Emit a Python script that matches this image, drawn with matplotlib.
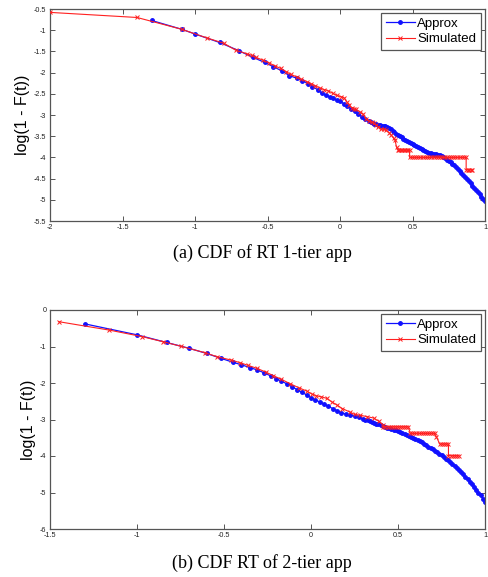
import matplotlib.pyplot as plt

# ── data ─────────────────────────────────────────────────────────────────────
# (a) 1-tier app
a_approx_x = [-1.30, -1.09, -1.00, -0.83, -0.70, -0.60, -0.52, -0.46, -0.40, -0.35,
              -0.30, -0.26, -0.22, -0.19, -0.155, -0.125, -0.097, -0.07, -0.046, -0.022,
              0.000, 0.025, 0.050, 0.075, 0.100, 0.125, 0.150, 0.175,
              0.2000, 0.2125, 0.2250, 0.2375, 0.2500, 0.2625, 0.2750, 0.2875,
              0.3000, 0.3125, 0.3250, 0.3375, 0.3500, 0.3625, 0.3750, 0.3875,
              0.4000, 0.4125, 0.4250, 0.4375, 0.4500, 0.4625, 0.4750, 0.4875,
              0.5000, 0.5125, 0.5250, 0.5375, 0.5500, 0.5625, 0.5750, 0.5875,
              0.6000, 0.6125, 0.6250, 0.6375, 0.6500, 0.6625, 0.6750, 0.6875,
              0.7000, 0.7125, 0.7250, 0.7375, 0.7500, 0.7625, 0.7750, 0.7875,
              0.8000, 0.8125, 0.8250, 0.8375, 0.8500, 0.8625, 0.8750, 0.8875,
              0.9000, 0.9125, 0.9250, 0.9375, 0.9500, 0.9625, 0.9750, 0.9875, 1.0000]
a_approx_y = [-0.77, -0.98, -1.09, -1.29, -1.48, -1.64, -1.76, -1.86, -1.96, -2.07,
              -2.13, -2.19, -2.26, -2.33, -2.40, -2.49, -2.53, -2.57, -2.61, -2.65,
              -2.68, -2.73, -2.79, -2.85, -2.91, -2.98, -3.04, -3.10,
              -3.15, -3.17, -3.19, -3.205, -3.22, -3.23, -3.24, -3.25,
              -3.26, -3.27, -3.28, -3.30, -3.33, -3.37, -3.41, -3.44,
              -3.47, -3.50, -3.53, -3.555, -3.58, -3.605, -3.63, -3.655,
              -3.68, -3.71, -3.74, -3.765, -3.79, -3.81, -3.83, -3.85,
              -3.87, -3.885, -3.90, -3.91, -3.92, -3.93, -3.94, -3.955,
              -3.97, -3.995, -4.02, -4.05, -4.08, -4.115, -4.15, -4.19,
              -4.23, -4.275, -4.32, -4.365, -4.41, -4.46, -4.51, -4.56,
              -4.61, -4.665, -4.72, -4.77, -4.82, -4.875, -4.93, -4.98, -5.03]

a_sim_x = [-2.00, -1.40, -1.09, -0.92, -0.80, -0.72, -0.64, -0.61, -0.58, -0.53,
           -0.49, -0.45, -0.41, -0.37, -0.34, -0.30, -0.27, -0.23, -0.20, -0.17,
           -0.14, -0.11, -0.08, -0.05, -0.02, 0.01, 0.03, 0.046, 0.065, 0.08,
           0.095, 0.11, 0.135, 0.16, 0.18, 0.20, 0.22, 0.235, 0.25, 0.265,
           0.28, 0.30, 0.32, 0.34, 0.355, 0.37, 0.38, 0.39,
           0.40, 0.41, 0.42, 0.43, 0.44, 0.45, 0.46, 0.47, 0.48,
           0.48, 0.495, 0.51, 0.525, 0.54, 0.555, 0.57, 0.585, 0.60, 0.615,
           0.63, 0.645, 0.66, 0.675, 0.69, 0.705, 0.72, 0.735, 0.75, 0.765,
           0.78, 0.795, 0.81, 0.825, 0.84, 0.855, 0.87,
           0.87, 0.88, 0.89, 0.90, 0.91]
a_sim_y = [-0.58, -0.70, -0.98, -1.18, -1.31, -1.47, -1.56, -1.59, -1.64, -1.71,
           -1.77, -1.84, -1.90, -1.98, -2.04, -2.10, -2.15, -2.21, -2.26, -2.31,
           -2.36, -2.40, -2.43, -2.49, -2.54, -2.57, -2.60, -2.69, -2.76, -2.83,
           -2.85, -2.87, -2.92, -2.98, -3.09, -3.13, -3.17, -3.20, -3.24, -3.28,
           -3.33, -3.34, -3.36, -3.42, -3.48, -3.55, -3.60, -3.76,
           -3.83, -3.83, -3.83, -3.83, -3.83, -3.83, -3.83, -3.83, -3.83,
           -4.00, -4.00, -4.00, -4.00, -4.00, -4.00, -4.00, -4.00, -4.00, -4.00,
           -4.00, -4.00, -4.00, -4.00, -4.00, -4.00, -4.00, -4.00, -4.00, -4.00,
           -4.00, -4.00, -4.00, -4.00, -4.00, -4.00, -4.00,
           -4.29, -4.29, -4.29, -4.29, -4.29]

# (b) 2-tier app
b_approx_x = [-1.30, -1.00, -0.83, -0.70, -0.60, -0.52, -0.45, -0.40, -0.35, -0.31,
              -0.27, -0.23, -0.20, -0.17, -0.14, -0.11, -0.08, -0.05, -0.025,
              0.000, 0.025, 0.050, 0.075, 0.100, 0.125, 0.150, 0.175, 0.200, 0.225,
              0.250, 0.275,
              0.3000, 0.3125, 0.3250, 0.3375, 0.3500, 0.3625, 0.3750, 0.3875,
              0.4000, 0.4125, 0.4250, 0.4375, 0.4500, 0.4625, 0.4750, 0.4875,
              0.5000, 0.5125, 0.5250, 0.5375, 0.5500, 0.5625, 0.5750, 0.5875,
              0.6000, 0.6125, 0.6250, 0.6375, 0.6500, 0.6625, 0.6750, 0.6875,
              0.7000, 0.7125, 0.7250, 0.7375, 0.7500, 0.7625, 0.7750, 0.7875,
              0.8000, 0.8125, 0.8250, 0.8375, 0.8500, 0.8625, 0.8750, 0.8875,
              0.9000, 0.9125, 0.9250, 0.9375, 0.9500, 0.9625, 0.9750, 0.9875, 1.0000]
b_approx_y = [-0.38, -0.68, -0.89, -1.05, -1.19, -1.32, -1.43, -1.50, -1.58, -1.64,
              -1.72, -1.81, -1.88, -1.95, -2.02, -2.10, -2.18, -2.26, -2.33,
              -2.40, -2.46, -2.52, -2.58, -2.64, -2.70, -2.76, -2.81, -2.85, -2.88,
              -2.91, -2.94,
              -2.98, -3.00, -3.02, -3.045, -3.07, -3.09, -3.11, -3.135,
              -3.16, -3.18, -3.20, -3.22, -3.24, -3.26, -3.28, -3.30,
              -3.32, -3.345, -3.37, -3.395, -3.42, -3.45, -3.48, -3.51,
              -3.54, -3.57, -3.60, -3.63, -3.66, -3.70, -3.74, -3.775,
              -3.81, -3.85, -3.89, -3.935, -3.98, -4.025, -4.07, -4.12,
              -4.17, -4.225, -4.28, -4.335, -4.39, -4.445, -4.50, -4.57,
              -4.64, -4.705, -4.77, -4.845, -4.92, -5.00, -5.08, -5.165, -5.25]

b_sim_x = [-1.45, -1.16, -0.97, -0.85, -0.75, -0.61, -0.54, -0.46, -0.41, -0.36,
           -0.31, -0.26, -0.216, -0.17, -0.12, -0.07, -0.025, 0.004, 0.03, 0.06,
           0.09, 0.12, 0.148, 0.18, 0.225, 0.25, 0.28, 0.32, 0.36, 0.39, 0.416,
           0.416, 0.428, 0.44, 0.452, 0.464, 0.476, 0.488, 0.50, 0.512, 0.524,
           0.536, 0.548, 0.56,
           0.57, 0.582, 0.594, 0.606, 0.618, 0.63, 0.642, 0.654, 0.666, 0.678,
           0.69, 0.70, 0.71, 0.72,
           0.74, 0.752, 0.764, 0.776, 0.79,
           0.79, 0.802, 0.814, 0.826, 0.838, 0.85]
b_sim_y = [-0.32, -0.55, -0.73, -0.87, -0.99, -1.17, -1.28, -1.37, -1.44, -1.52,
           -1.60, -1.70, -1.80, -1.90, -2.02, -2.13, -2.22, -2.30, -2.35, -2.38,
           -2.42, -2.52, -2.60, -2.70, -2.80, -2.86, -2.88, -2.92, -2.96, -3.05, -3.15,
           -3.20, -3.20, -3.20, -3.20, -3.20, -3.20, -3.20, -3.20, -3.20, -3.20,
           -3.20, -3.20, -3.20,
           -3.38, -3.38, -3.38, -3.38, -3.38, -3.38, -3.38, -3.38, -3.38, -3.38,
           -3.38, -3.38, -3.38, -3.47,
           -3.67, -3.67, -3.67, -3.67, -3.67,
           -3.99, -3.99, -3.99, -3.99, -3.99, -3.99]

a_xticks = [-2, -1.5, -1, -0.5, 0, 0.5, 1]
a_yticks = [-5.5, -5, -4.5, -4, -3.5, -3, -2.5, -2, -1.5, -1, -0.5]
b_xticks = [-1.5, -1, -0.5, 0, 0.5, 1]
b_yticks = [-6, -5, -4, -3, -2, -1, 0]

SANS = ['Liberation Sans', 'DejaVu Sans']
SERIF = ['Liberation Serif', 'DejaVu Serif']
SPINE = '#555555'

fig = plt.figure(figsize=(4.88, 5.77), dpi=100)
ax_a = fig.add_axes([50 / 488, 1 - 221 / 577, 435 / 488, 212 / 577])
ax_b = fig.add_axes([50 / 488, 1 - 529 / 577, 435 / 488, 219 / 577])


def style(ax, xlim, ylim, xt, yt):
    ax.set_xlim(*xlim)
    ax.set_ylim(*ylim)
    ax.set_xticks(xt)
    ax.set_yticks(yt)
    ax.set_xticklabels(['%g' % v for v in xt])
    ax.set_yticklabels(['%g' % v for v in yt])
    ax.tick_params(direction='in', top=True, right=True, length=3.5, width=0.7,
                   color=SPINE, labelsize=5.2, labelcolor='#222222', pad=2.5)
    for lab in ax.get_xticklabels() + ax.get_yticklabels():
        lab.set_family(SANS)
    for s in ax.spines.values():
        s.set_color(SPINE)
        s.set_linewidth(0.9)
    ax.set_ylabel('log(1 - F(t))', fontsize=11.5, family=SANS, labelpad=3)


def draw(ax, ax_x, ax_y, sx, sy):
    ax.plot(ax_x, ax_y, color='#1010ff', lw=0.9, marker='o', ms=2.5,
            mec='#1010ff', mfc='#1010ff', label='Approx', zorder=2)
    ax.plot(sx, sy, color='#ff2020', lw=0.8, marker='x', ms=3.5, mew=0.7,
            label='Simulated', zorder=3)
    leg = ax.legend(loc='upper right', prop={'family': SANS, 'size': 9.5},
                    fancybox=False, framealpha=1, edgecolor=SPINE, borderpad=0.35,
                    labelspacing=0.25, handlelength=2.2, handletextpad=0.2,
                    borderaxespad=0.3)
    leg.get_frame().set_linewidth(0.9)


style(ax_a, (-2, 1), (-5.5, -0.5), a_xticks, a_yticks)
draw(ax_a, a_approx_x, a_approx_y, a_sim_x, a_sim_y)
style(ax_b, (-1.5, 1), (-6, 0), b_xticks, b_yticks)
draw(ax_b, b_approx_x, b_approx_y, b_sim_x, b_sim_y)

fig.text(262 / 488, 1 - 253 / 577, '(a) CDF of RT 1-tier app', ha='center', va='center',
         fontsize=13, family=SERIF)
fig.text(262 / 488, 1 - 563 / 577, '(b) CDF RT of 2-tier app', ha='center', va='center',
         fontsize=13, family=SERIF)

fig.savefig('out.png', dpi=100, facecolor='white')
